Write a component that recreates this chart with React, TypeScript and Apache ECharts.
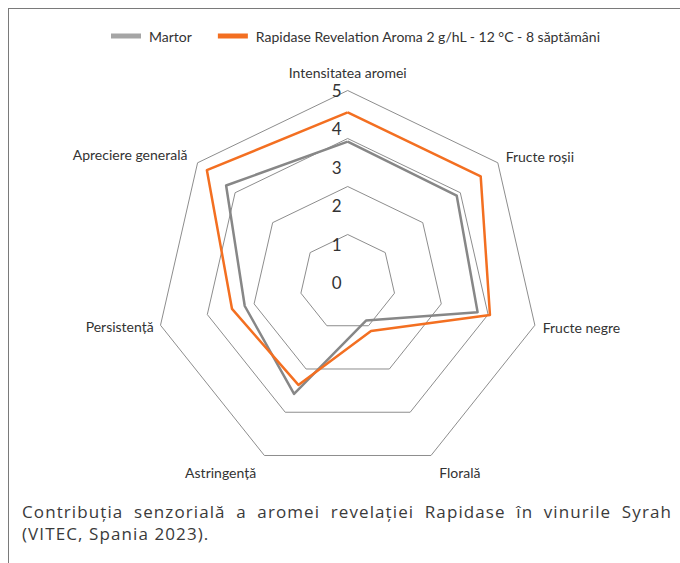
import React, { useEffect, useRef } from "react";
import * as echarts from "echarts";

const indicatorNames = [
  "Intensitatea aromei",
  "Fructe roșii",
  "Fructe negre",
  "Florală",
  "Astringență",
  "Persistență",
  "Apreciere generală",
];
const martorValues = [3.67, 3.63, 3.47, 1.1, 3.22, 2.75, 4.05];
const rapidaseValues = [4.43, 4.43, 3.8, 1.4, 2.96, 3.09, 4.69];
const seriesNames = ["Martor", "Rapidase Revelation Aroma 2 g/hL - 12 °C - 8 săptămâni"];
const axisMax = 5;
const ringCount = 4;
const tickCount = 5;
const captionLine1 = "Contribuția senzorială a aromei revelației Rapidase în vinurile Syrah";
const captionLine2 = "(VITEC, Spania 2023).";

// ECharts places radar indicators counter-clockwise; reorder so they run clockwise from the top.
const order = indicatorNames.map((_, i) => (i === 0 ? 0 : indicatorNames.length - i));
const reorder = <T,>(arr: T[]) => order.map((k) => arr[k]);
// Distance of each indicator name from the outer ring (in original indicator order).
const nameGaps = [11, 10, 8, 19, 19, 7, 13];

const FONT = 'Lato, "Liberation Sans", sans-serif';
const ORANGE = "#f36f21";
const GRAY = "#878787";

export default function App() {
  const ref = useRef<HTMLDivElement>(null);
  useEffect(() => {
    if (!ref.current) return;
    const chart = echarts.init(ref.current, undefined, { renderer: "svg" });
    const center = [347.7, 282.5];
    const radius = 192;
    const gaps = reorder(nameGaps);
    chart.setOption({
      animation: false,
      textStyle: { fontFamily: FONT },
      legend: {
        top: 24,
        left: 106,
        width: 600,
        itemWidth: 30,
        itemHeight: 5,
        itemGap: 26,
        icon: "rect",
        textStyle: { fontFamily: FONT, fontSize: 14, color: "#333", padding: [0, 0, 0, 3] },
        data: [
          { name: seriesNames[0], itemStyle: { color: "#a5a5a5" } },
          { name: seriesNames[1], itemStyle: { color: ORANGE } },
        ],
      },
      radar: [
        {
          center,
          radius,
          shape: "polygon",
          splitNumber: ringCount,
          indicator: reorder(indicatorNames).map((n, i) => ({
            name: n,
            min: 0,
            max: axisMax,
            nameGap: gaps[i],
          })),
          axisName: { color: "#333", fontSize: 14, fontFamily: FONT },
          nameGap: 9,
          axisLine: { show: false },
          axisTick: { show: false },
          axisLabel: { show: false },
          splitArea: { show: false },
          splitLine: { lineStyle: { color: "#8d8d8d", width: 1 } },
        },
        {
          center,
          radius,
          shape: "polygon",
          splitNumber: tickCount,
          indicator: reorder(indicatorNames).map((n, i) => ({
            name: n,
            min: 0,
            max: axisMax,
            axisLabel: { show: i === 0 },
          })),
          axisName: { show: false },
          axisLine: { show: false },
          axisTick: { show: false },
          axisLabel: {
            show: false,
            color: "#333",
            fontSize: 17,
            fontFamily: FONT,
            margin: 6,
          },
          splitArea: { show: false },
          splitLine: { show: false },
        },
      ],
      series: [
        {
          type: "radar",
          radarIndex: 0,
          symbol: "none",
          data: [
            {
              name: seriesNames[0],
              value: reorder(martorValues),
              lineStyle: { color: GRAY, width: 2.5 },
              itemStyle: { color: GRAY },
            },
            {
              name: seriesNames[1],
              value: reorder(rapidaseValues),
              lineStyle: { color: ORANGE, width: 2.5 },
              itemStyle: { color: ORANGE },
            },
          ],
        },
      ],
    });
    return () => chart.dispose();
  }, []);

  const captionStyle: React.CSSProperties = {
    fontFamily: '"Open Sans", "Noto Sans", sans-serif',
    fontSize: 17,
    lineHeight: "22px",
    color: "#3a3a3a",
    letterSpacing: "1.1px",
    whiteSpace: "nowrap",
  };

  return (
    <div style={{ position: "absolute", left: 0, top: 0, width: 680, height: 563, background: "#fff" }}>
      <div
        style={{
          position: "absolute",
          left: 8,
          top: 8,
          width: 672,
          height: 555,
          borderTop: "1px solid #7a7a7a",
          borderLeft: "1px solid #7a7a7a",
          boxSizing: "border-box",
        }}
      />
      <div ref={ref} style={{ position: "absolute", left: 0, top: 0, width: 680, height: 490 }} />
      <div style={{ position: "absolute", left: 22, top: 501, width: 650 }}>
        <div style={{ ...captionStyle, whiteSpace: "normal", textAlign: "justify", textAlignLast: "justify" }}>
          {captionLine1}
        </div>
        <div style={captionStyle}>{captionLine2}</div>
      </div>
    </div>
  );
}
